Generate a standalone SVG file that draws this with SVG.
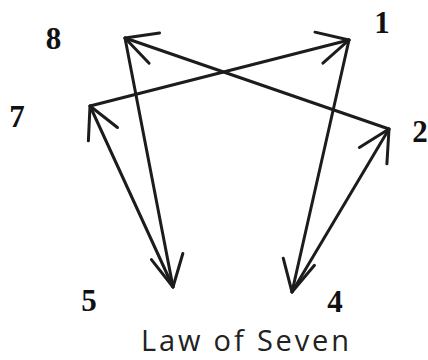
<svg xmlns="http://www.w3.org/2000/svg" width="428" height="360" viewBox="0 0 428 360">
<defs>
<style>
.num{font-family:"Liberation Serif","Times New Roman",serif;font-weight:bold;font-size:31px;fill:#111;text-anchor:middle}
.title{font-family:"Open Sans","Noto Sans",sans-serif;font-size:29px;fill:#222;text-anchor:middle}
.edge{stroke:#1c1c1c;stroke-width:3;fill:none;stroke-linecap:round;stroke-linejoin:round}
</style>
<marker id="arr" markerUnits="userSpaceOnUse" markerWidth="80" markerHeight="80" viewBox="-40 -40 80 80" refX="0" refY="0" orient="auto">
<path d="M-31,-16 L0,0 L-31,16" fill="none" stroke="#1c1c1c" stroke-width="3" stroke-linecap="round" stroke-linejoin="round"/>
</marker>
</defs>
<rect width="428" height="360" fill="#fff"/>
<g id="connectors">
<line class="edge" x1="125" y1="38" x2="173" y2="287" marker-end="url(#arr)"/>
<line class="edge" x1="90" y1="106" x2="349" y2="40" marker-end="url(#arr)"/>
<line class="edge" x1="349" y1="40" x2="292" y2="292" marker-end="url(#arr)"/>
<line class="edge" x1="292" y1="292" x2="389" y2="129" marker-end="url(#arr)"/>
<line class="edge" x1="389" y1="129" x2="125" y2="38" marker-end="url(#arr)"/>
<line class="edge" x1="173" y1="287" x2="90" y2="106" marker-end="url(#arr)"/>
</g>
<g id="node-1"><text class="num" x="382" y="33">1</text></g>
<g id="node-2"><text class="num" x="420" y="142">2</text></g>
<g id="node-4"><text class="num" x="335" y="312">4</text></g>
<g id="node-5"><text class="num" x="89" y="311">5</text></g>
<g id="node-7"><text class="num" x="17" y="127">7</text></g>
<g id="node-8"><text class="num" x="53.5" y="49">8</text></g>
<g id="title"><text class="title" x="245" y="351" textLength="208" lengthAdjust="spacing">Law of Seven</text></g>
</svg>
